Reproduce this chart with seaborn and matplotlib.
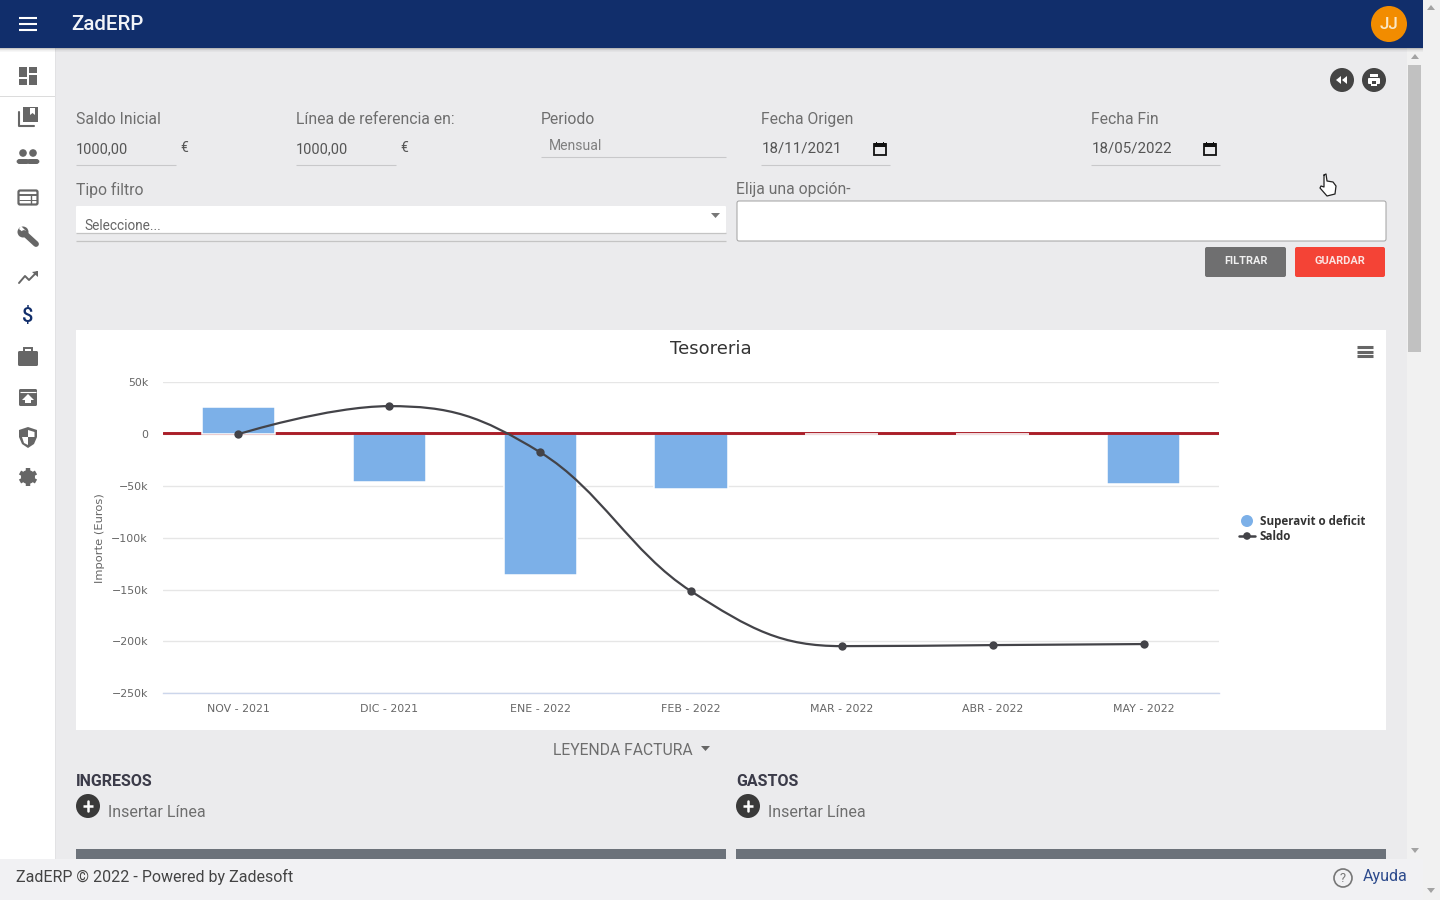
"""Treasury screen: seaborn chart inside the ZadERP page chrome."""

import matplotlib
matplotlib.use("Agg")
import matplotlib.pyplot as plt
import pandas as pd
import seaborn as sns
from matplotlib.patches import Circle, FancyBboxPatch, PathPatch, Polygon, Rectangle
from matplotlib.path import Path

# chart data
months = ["NOV - 2021", "DIC - 2021", "ENE - 2022", "FEB - 2022", "MAR - 2022", "ABR - 2022", "MAY - 2022"]
surplus = [26000, -46500, -135500, -53000, 0, 0, -48000]
balance = [0, 27000, -17500, -151500, -204500, -203500, -202500]
reference_line = 900
y_ticks = [50000, 0, -50000, -100000, -150000, -200000, -250000]
y_tick_labels = ["50k", "0", "−50k", "−100k", "−150k", "−200k", "−250k"]

BAR_BLUE = "#7cb0e8"
LINE_DARK = "#434348"
GRID = "#e6e6e6"
ICON = "#666666"
PAGE = "#ebebed"
UI_FONT = "Roboto"


def px(size):
    """CSS pixels to points at dpi 100."""
    return size * 0.72


def spline_path(xs, ys, smoothing=1.5):
    """Bezier path through the points, same tangent rule as the original chart."""
    denom = smoothing + 1
    n = len(xs)
    left, right = [None] * n, [None] * n
    for i in range(1, n - 1):
        lx = (smoothing * xs[i] + xs[i - 1]) / denom
        ly = (smoothing * ys[i] + ys[i - 1]) / denom
        rx = (smoothing * xs[i] + xs[i + 1]) / denom
        ry = (smoothing * ys[i] + ys[i + 1]) / denom
        corr = (ry - ly) * (rx - xs[i]) / (rx - lx) + ys[i] - ry
        ly += corr
        ry += corr
        # no overshoot past the neighbours
        if ly > ys[i - 1] and ly > ys[i]:
            ly = max(ys[i - 1], ys[i])
            ry = 2 * ys[i] - ly
        elif ly < ys[i - 1] and ly < ys[i]:
            ly = min(ys[i - 1], ys[i])
            ry = 2 * ys[i] - ly
        if ry > ys[i + 1] and ry > ys[i]:
            ry = max(ys[i + 1], ys[i])
            ly = 2 * ys[i] - ry
        elif ry < ys[i + 1] and ry < ys[i]:
            ry = min(ys[i + 1], ys[i])
            ly = 2 * ys[i] - ry
        left[i], right[i] = (lx, ly), (rx, ry)
    verts = [(xs[0], ys[0])]
    codes = [Path.MOVETO]
    for i in range(1, n):
        verts += [right[i - 1] or (xs[i - 1], ys[i - 1]), left[i] or (xs[i], ys[i]), (xs[i], ys[i])]
        codes += [Path.CURVE4] * 3
    return Path(verts, codes)


sns.set_theme(style="white")
plt.rcParams["font.family"] = ["Roboto", "DejaVu Sans"]

fig = plt.figure(figsize=(14.4, 9), dpi=100, facecolor=PAGE)

# page chrome, drawn in screen pixels
ui = fig.add_axes([0, 0, 1, 1], zorder=0)
ui.set_xlim(0, 1440)
ui.set_ylim(900, 0)
ui.axis("off")


def rect(x0, y0, x1, y1, color, **kw):
    ui.add_patch(Rectangle((x0, y0), x1 - x0, y1 - y0, facecolor=color, edgecolor="none", **kw))


def round_rect(x0, y0, x1, y1, color, r=2, edge="none", lw=0):
    ui.add_patch(FancyBboxPatch((x0 + r, y0 + r), x1 - x0 - 2 * r, y1 - y0 - 2 * r,
                                boxstyle=f"round,pad={r},rounding_size={r}",
                                facecolor=color, edgecolor=edge, linewidth=lw))


def hline(x0, x1, y, color="#c8c8ca", lw=0.8):
    ui.plot([x0, x1], [y, y], color=color, lw=lw, solid_capstyle="butt")


def poly(points, color, **kw):
    ui.add_patch(Polygon(points, closed=True, facecolor=color, edgecolor="none", **kw))


def circle(x, y, r, color, **kw):
    ui.add_patch(Circle((x, y), r, facecolor=color, edgecolor=kw.pop("edge", "none"), **kw))


def label(x, y, text, size=15.8, color="#6e6e6e", weight="normal", ha="left", **kw):
    # Roboto sits a little high with va=center
    ui.text(x, y + 1.5, text, fontsize=px(size), color=color, fontweight=weight, ha=ha, va="center",
            family=[UI_FONT, "DejaVu Sans"], **kw)


# outer regions
rect(0, 0, 55, 900, "white")
rect(55, 0, 56, 900, "#e2e2e4")
rect(1423, 0, 1440, 900, "#f1f1f1")
rect(1407, 48, 1423, 859, "#f1f1f1")
rect(1408, 65, 1421, 352, "#c1c1c1")
for cx, cy, d in [(1431, 8, -1), (1415, 57, -1), (1415, 850, 1), (1431, 890, 1)]:
    poly([(cx - 4, cy - 2 * d), (cx + 4, cy - 2 * d), (cx, cy + 3 * d)], "#a3a3a3")

# header with soft shadow
for i, a in enumerate([0.22, 0.12, 0.06, 0.03]):
    rect(0, 48 + i, 1423, 49 + i, "black", alpha=a)
rect(0, 0, 1423, 48, "#112e6b")
for y in (18, 24, 30):
    hline(19, 37, y, "white", 1.5)
label(71, 23, "ZadERP", 20.5, "#f2f4f8", "medium")
circle(1389, 24, 18, "#f28c00")
label(1389, 23, "JJ", 17, "#fbe7c6", "medium", ha="center")

# sidebar icons
rect(0, 96, 55, 97, "#dcdcdc")
for x0, y0, x1, y1 in [(19, 67, 27, 77), (19, 79, 27, 85), (29, 67, 37, 73), (29, 75, 37, 85)]:
    rect(x0, y0, x1, y1, ICON)
rect(23, 107, 38, 122, ICON)
poly([(30, 108), (35, 108), (35, 115), (32.5, 113), (30, 115)], "white")
ui.plot([19, 19, 34], [112, 126, 126], color=ICON, lw=1.5)
for cx in (23, 33):
    circle(cx, 153, 3.8, ICON)
    ui.add_patch(FancyBboxPatch((cx - 5.5, 160), 11, 3, boxstyle="round,pad=1,rounding_size=3",
                                facecolor=ICON, edgecolor="none"))
round_rect(18.5, 190.5, 37.5, 204.5, "none", 1.5, ICON, 1.6)
hline(19, 37, 195, ICON, 1.4)
hline(19, 37, 199.5, ICON, 0.7)
ui.plot([31, 31], [195, 204], color=ICON, lw=1)
ui.plot([24, 36], [233, 244], color=ICON, lw=4.2, solid_capstyle="round")
circle(23, 232, 5.5, ICON)
poly([(21, 226), (26, 231), (24, 233), (19, 229)], "white")
ui.plot([19, 25, 29, 37], [283, 276, 280, 272], color=ICON, lw=1.4)
poly([(32, 272), (38, 271), (38, 277)], ICON)
label(28, 315.5, "$", 20, "#112e6b", "medium", ha="center")
round_rect(18, 351, 38, 366, ICON, 1.5)
ui.add_patch(Rectangle((24, 348), 8, 4, facecolor="none", edgecolor=ICON, lw=1.4))
round_rect(19, 389, 37, 406, ICON, 1.5)
hline(20, 36, 392, "white", 0.8)
poly([(28, 394), (34, 400), (22, 400)], "white")
rect(25, 400, 31, 403, "white")
poly([(28, 427), (37, 430), (37, 437), (34, 444), (28, 448), (22, 444), (19, 437), (19, 430)], ICON)
poly([(28, 430), (34.5, 432), (34.5, 437), (28, 437)], "white")
poly([(28, 437), (22, 437), (24, 443), (28, 445)], "white")
circle(28, 477, 7, ICON)
for dx, dy in [(0, 9), (8, 4.5), (8, -4.5), (0, -9), (-8, -4.5), (-8, 4.5)]:
    ui.plot([28, 28 + dx], [477, 477 + dy], color=ICON, lw=3.2, solid_capstyle="butt")
circle(28, 477, 3, "white")

# top right round buttons
circle(1342, 80, 12, "#444444")
circle(1374, 80, 12, "#444444")
poly([(1341, 76), (1341, 84), (1336, 80)], "white")
poly([(1347, 76), (1347, 84), (1342, 80)], "white")
rect(1370, 74, 1378, 77, "white")
round_rect(1368, 78, 1380, 84, "white", 1)
rect(1371, 81, 1377, 86, "white")
rect(1372, 81, 1376, 84, "#444444")

# filter form
for x, text in [(76, "Saldo Inicial"), (296, "Línea de referencia en:"), (541, "Periodo"),
                (761, "Fecha Origen"), (1091, "Fecha Fin")]:
    label(x, 118, text)
for x, end in [(76, 176), (296, 396)]:
    label(x, 148, "1000,00", 14.5, "#555555")
    label(end + 4, 147, "€", 14, "#555555")
    hline(x, end, 165)
label(549, 144, "Mensual", 14, "#808080")
hline(541, 726, 157)
for x, end, text in [(762, 890, "18/11/2021"), (1092, 1220, "18/05/2022")]:
    label(x, 147, text, 15, "#555555")
    hline(x - 1, end, 165)
    ic = end - 10
    ui.add_patch(Rectangle((ic - 6, 144), 12, 11, facecolor="none", edgecolor="#111111", lw=1.3))
    rect(ic - 6, 143, ic + 6, 147, "#111111")
    rect(ic - 4, 142, ic - 3, 144, "#111111")
    rect(ic + 3, 142, ic + 4, 144, "#111111")

label(76, 188, "Tipo filtro")
label(736, 188, "Elija una opción-")
round_rect(76, 206, 726, 233, "white", 1)
hline(76, 726, 232.5, "#c4c4c4", 0.9)
hline(76, 726, 241, "#c4c4c4", 0.9)
label(84, 225, "Seleccione...", 13.6, "#666666")
poly([(711, 213), (720, 213), (715.5, 218)], "#777777")
round_rect(737, 201, 1386, 241, "white", 2, "#a0a0a0", 0.7)
round_rect(1205, 247, 1286, 277, "#6f6f70", 2)
label(1245.5, 260, "FILTRAR", 11, "#f0f0f0", "bold", ha="center")
round_rect(1295, 247, 1385, 277, "#f44336", 2)
label(1340, 260, "GUARDAR", 11, "#fbe3e1", "bold", ha="center")

# mouse pointer
poly([(1324, 175), (1326, 174), (1327, 181), (1333, 182), (1336, 186), (1335, 194), (1327, 196),
      (1320, 188), (1321, 186), (1324, 187)], "white", zorder=5)
ui.plot([1324, 1326, 1327, 1333, 1336, 1335, 1327, 1320, 1321, 1324, 1324],
        [175, 174, 181, 182, 186, 194, 196, 188, 186, 187, 175], color="#222222", lw=0.9, zorder=6)

# chart card
rect(76, 330, 1386, 730, "white")
ui.text(711, 349.5, "Tesoreria", fontsize=px(18), color="#333333", ha="center", va="center",
        family="DejaVu Sans")
for y in (346.5, 351.5, 356):
    hline(1357, 1373, y, "#666666", 2.2)

# chart legend
circle(1247, 521, 6, BAR_BLUE)
ui.plot([1239, 1255], [536, 536], color=LINE_DARK, lw=1.8)
circle(1247, 536, 3.8, LINE_DARK)
for y, text in [(521, "Superavit o deficit"), (536, "Saldo")]:
    ui.text(1260, y, text, fontsize=px(11.6), color="#333333", fontweight="bold", va="center",
            family="Open Sans")

# below the chart
label(553, 749, "LEYENDA FACTURA", 15.8)
poly([(701, 746), (710, 746), (705.5, 751)], "#666666")
for x, title in [(76, "INGRESOS"), (736, "GASTOS")]:
    label(x, 780, title, 16, "#3b3b49", "bold")
    circle(x + 12, 806, 12, "#3a3a3a")
    hline(x + 7, x + 17, 806, "white", 1.8)
    ui.plot([x + 12, x + 12], [801, 811], color="white", lw=1.8)
    label(x + 32, 811, "Insertar Línea", 16)
    rect(x, 849, x + 650, 859, "#6c727a")

# footer
rect(0, 859, 1423, 900, "#f1f1f3")
label(16, 875.5, "ZadERP © 2022 - Powered by Zadesoft", 16, "#444444")
ui.add_patch(Circle((1343, 878), 9, facecolor="none", edgecolor="#777777", lw=1.2))
label(1343, 877, "?", 13, "#777777", ha="center")
label(1363, 875.5, "Ayuda", 16, "#2c4a8c")

# the chart itself
ax = fig.add_axes([163 / 1440, 1 - 693.3 / 900, 1056 / 1440, 311 / 900], zorder=1)
ax.patch.set_alpha(0)
df = pd.DataFrame({"month": months, "surplus": surplus})
sns.barplot(data=df, x="month", y="surplus", color=BAR_BLUE, saturation=1, width=0.485,
            edgecolor="white", linewidth=1.1, errorbar=None, ax=ax)
# negative bars stay under the red line, the rest cut through it
for bar in ax.patches:
    height = bar.get_height()
    bar.set_zorder(1.2 if height < 0 else 2)
    if height == 0:
        bar.set_linewidth(1.2)
ax.axhline(reference_line, color="#aa1e28", lw=2.1, zorder=1.5)
positions = list(range(len(months)))
ax.add_patch(PathPatch(spline_path(positions, balance), facecolor="none", edgecolor=LINE_DARK,
                       lw=1.6, zorder=3))
sns.scatterplot(x=positions, y=balance, color=LINE_DARK, s=36, linewidth=0, ax=ax, zorder=4)

ax.set_xlim(-0.5, 6.5)
ax.set_ylim(-250000, 50000)
ax.set_yticks(y_ticks, y_tick_labels)
ax.set_xticks(positions, months)
ax.set_xlabel("")
ax.set_ylabel("Importe (Euros)", fontsize=px(11.5), color="#666666", family="DejaVu Sans", labelpad=0)
ax.yaxis.set_label_coords(-58 / 1056, 0.5)
ax.grid(axis="y", color=GRID, lw=1)
ax.grid(axis="x", visible=False)
ax.set_axisbelow(True)
ax.tick_params(axis="both", length=0, labelcolor="#666666", labelsize=px(11))
ax.tick_params(axis="x", pad=7.5)
ax.tick_params(axis="y", pad=10.8)
for t in ax.get_xticklabels() + ax.get_yticklabels():
    t.set_family("DejaVu Sans")
for side in ("top", "left", "right"):
    ax.spines[side].set_visible(False)
ax.spines["bottom"].set_color("#ccd6eb")
ax.spines["bottom"].set_linewidth(1)

fig.savefig("out.png", dpi=100, facecolor=PAGE)
